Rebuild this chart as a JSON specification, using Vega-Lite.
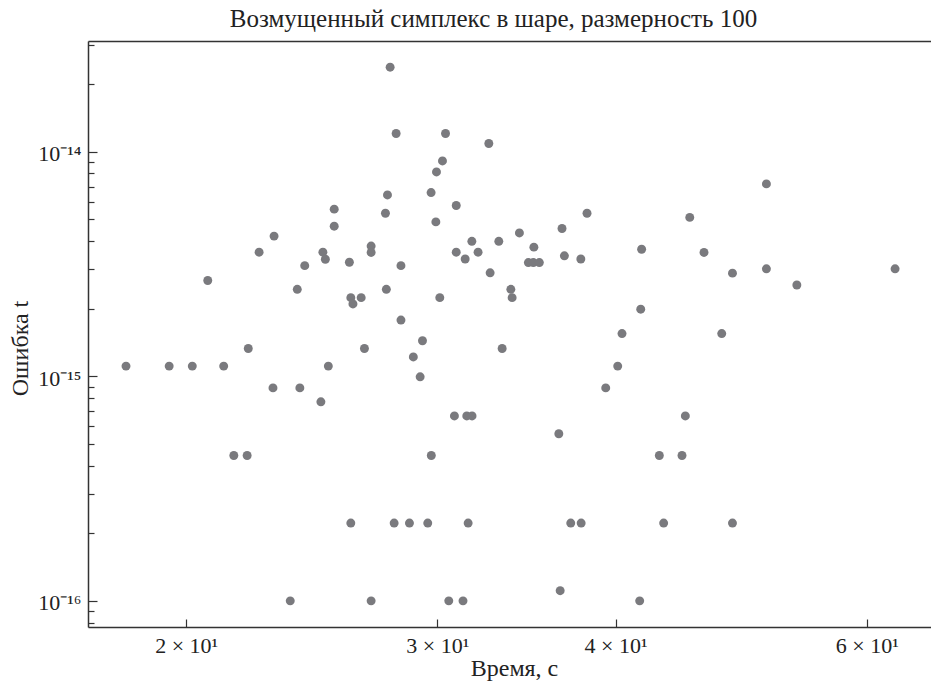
{
  "$schema": "https://vega.github.io/schema/vega-lite/v6.json",
  "width": 843,
  "height": 586,
  "autosize": {"type": "none"},
  "padding": {"left": 88, "top": 41, "right": 0, "bottom": 62},
  "background": "white",
  "config": {
    "view": {"stroke": null},
    "font": "Liberation Serif",
    "axis": {"grid": false, "domainColor": "#333", "domainWidth": 1.5, "tickColor": "#333", "tickWidth": 1.2, "labelFont": "Liberation Serif", "titleFont": "Liberation Serif", "labelColor": "#222", "titleColor": "#222", "labelFontSize": 22, "titleFontSize": 24, "titleFontWeight": "normal"}
  },
  "title": {"text": "Возмущенный симплекс в шаре, размерность 100", "font": "Liberation Serif", "fontSize": 25, "fontWeight": "normal", "color": "#222", "anchor": "middle", "offset": 9, "dx": -16},
  "data": {"values": [
    {"t": 27.80, "err": 2.38e-14}, {"t": 28.07, "err": 1.205e-14}, {"t": 30.40, "err": 1.205e-14}, {"t": 32.60, "err": 1.088e-14},
    {"t": 30.25, "err": 9.10e-15}, {"t": 29.96, "err": 8.13e-15}, {"t": 27.68, "err": 6.42e-15}, {"t": 29.70, "err": 6.58e-15},
    {"t": 30.93, "err": 5.76e-15}, {"t": 25.40, "err": 5.55e-15}, {"t": 27.59, "err": 5.32e-15}, {"t": 25.40, "err": 4.66e-15},
    {"t": 29.93, "err": 4.87e-15}, {"t": 23.05, "err": 4.21e-15}, {"t": 22.50, "err": 3.57e-15}, {"t": 24.94, "err": 3.57e-15},
    {"t": 25.04, "err": 3.32e-15}, {"t": 26.96, "err": 3.80e-15}, {"t": 26.96, "err": 3.56e-15}, {"t": 26.03, "err": 3.22e-15},
    {"t": 24.22, "err": 3.11e-15}, {"t": 28.29, "err": 3.11e-15}, {"t": 31.72, "err": 3.99e-15}, {"t": 30.93, "err": 3.57e-15},
    {"t": 31.38, "err": 3.33e-15}, {"t": 32.04, "err": 3.57e-15}, {"t": 33.13, "err": 3.99e-15}, {"t": 32.67, "err": 2.89e-15},
    {"t": 20.71, "err": 2.67e-15}, {"t": 23.93, "err": 2.44e-15}, {"t": 27.63, "err": 2.44e-15}, {"t": 26.09, "err": 2.24e-15},
    {"t": 26.53, "err": 2.24e-15}, {"t": 26.18, "err": 2.10e-15}, {"t": 30.12, "err": 2.24e-15}, {"t": 28.29, "err": 1.78e-15},
    {"t": 51.03, "err": 7.19e-15}, {"t": 38.20, "err": 5.32e-15}, {"t": 45.09, "err": 5.10e-15}, {"t": 36.69, "err": 4.55e-15},
    {"t": 34.25, "err": 4.35e-15}, {"t": 35.06, "err": 3.76e-15}, {"t": 41.72, "err": 3.68e-15}, {"t": 46.14, "err": 3.56e-15},
    {"t": 36.83, "err": 3.44e-15}, {"t": 37.82, "err": 3.33e-15}, {"t": 34.75, "err": 3.21e-15}, {"t": 35.03, "err": 3.21e-15},
    {"t": 35.37, "err": 3.21e-15}, {"t": 48.31, "err": 2.88e-15}, {"t": 51.03, "err": 3.01e-15}, {"t": 62.81, "err": 3.01e-15},
    {"t": 33.78, "err": 2.44e-15}, {"t": 33.85, "err": 2.24e-15}, {"t": 53.60, "err": 2.55e-15}, {"t": 41.66, "err": 1.99e-15},
    {"t": 22.11, "err": 1.33e-15}, {"t": 26.67, "err": 1.33e-15}, {"t": 29.29, "err": 1.44e-15}, {"t": 28.86, "err": 1.22e-15},
    {"t": 29.18, "err": 9.95e-16}, {"t": 18.15, "err": 1.11e-15}, {"t": 19.46, "err": 1.11e-15}, {"t": 20.20, "err": 1.11e-15},
    {"t": 21.25, "err": 1.11e-15}, {"t": 25.16, "err": 1.11e-15}, {"t": 23.01, "err": 8.88e-16}, {"t": 24.03, "err": 8.88e-16},
    {"t": 24.86, "err": 7.70e-16}, {"t": 30.84, "err": 6.66e-16}, {"t": 31.46, "err": 6.66e-16}, {"t": 31.73, "err": 6.66e-16},
    {"t": 21.60, "err": 4.44e-16}, {"t": 22.07, "err": 4.44e-16}, {"t": 29.71, "err": 4.44e-16}, {"t": 26.09, "err": 2.22e-16},
    {"t": 27.98, "err": 2.22e-16}, {"t": 28.68, "err": 2.22e-16}, {"t": 29.54, "err": 2.22e-16}, {"t": 31.53, "err": 2.22e-16},
    {"t": 23.66, "err": 1.0e-16}, {"t": 26.96, "err": 1.0e-16}, {"t": 30.56, "err": 1.0e-16}, {"t": 31.27, "err": 1.0e-16},
    {"t": 33.31, "err": 1.33e-15}, {"t": 40.42, "err": 1.55e-15}, {"t": 47.48, "err": 1.55e-15}, {"t": 40.14, "err": 1.11e-15},
    {"t": 39.37, "err": 8.88e-16}, {"t": 44.77, "err": 6.66e-16}, {"t": 36.50, "err": 5.55e-16}, {"t": 42.93, "err": 4.44e-16},
    {"t": 44.53, "err": 4.44e-16}, {"t": 37.21, "err": 2.22e-16}, {"t": 37.84, "err": 2.22e-16}, {"t": 43.23, "err": 2.22e-16},
    {"t": 48.31, "err": 2.22e-16}, {"t": 36.58, "err": 1.11e-16}, {"t": 41.59, "err": 1.0e-16}
  ]},
  "layer": [
    {
      "mark": {"type": "circle", "size": 80, "color": "#7a7a7e", "opacity": 1},
      "encoding": {
        "x": {"field": "t", "type": "quantitative", "scale": {"type": "log", "domain": [17.07, 66.56], "nice": false, "zero": false},
          "axis": {"orient": "bottom", "values": [20, 30, 40, 60], "tickSize": -8, "labelPadding": 16.5, "labelExpr": "round(datum.value/10) + ' × 10¹'", "title": "Время, с", "titleX": 426, "titleY": 48, "titleBaseline": "alphabetic", "titleAlign": "center"}},
        "y": {"field": "err", "type": "quantitative", "scale": {"type": "log", "domain": [7.65e-17, 3.112e-14], "nice": false, "zero": false},
          "axis": {"orient": "left", "values": [1e-16, 1e-15, 1e-14], "tickSize": -9, "labelPadding": 16, "labelOffset": 2, "labelExpr": "datum.value < 5e-16 ? '10⁻¹⁶' : datum.value < 5e-15 ? '10⁻¹⁵' : '10⁻¹⁴'", "title": "Ошибка t", "titleAngle": 270, "titleX": -61, "titleY": 307, "titleBaseline": "alphabetic", "titleAlign": "center"}}
      }
    },
    {
      "mark": {"type": "circle", "size": 80, "opacity": 0},
      "encoding": {
        "x": {"field": "t", "type": "quantitative", "axis": {"orient": "top", "ticks": false, "labels": false, "title": null}},
        "y": {"field": "err", "type": "quantitative", "axis": {"orient": "left", "domain": false, "labels": false, "title": null, "tickSize": -6, "values": [8e-17, 9e-17, 2e-16, 3e-16, 4e-16, 5e-16, 6e-16, 7e-16, 8e-16, 9e-16, 2e-15, 3e-15, 4e-15, 5e-15, 6e-15, 7e-15, 8e-15, 9e-15, 2e-14, 3e-14]}}
      }
    }
  ],
  "resolve": {"axis": {"x": "independent", "y": "independent"}}
}
